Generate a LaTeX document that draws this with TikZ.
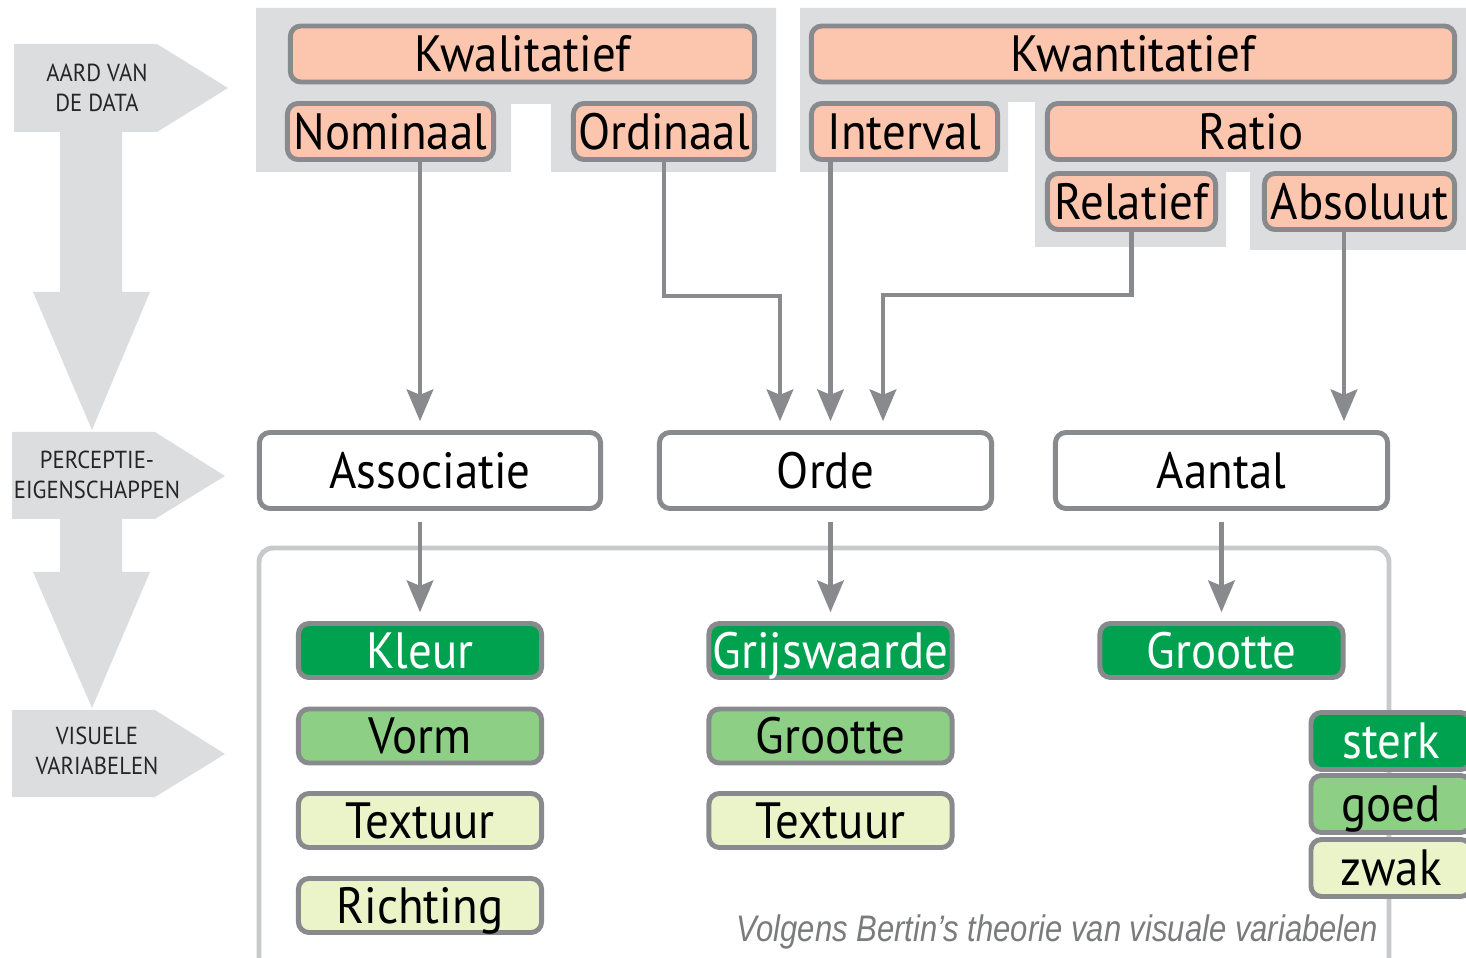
\documentclass[tikz,border=0pt]{standalone}
\usepackage{fontspec}
\setmainfont[FakeStretch=0.92]{PT Sans}
\newfontfamily\captionfont[FakeStretch=0.84]{Liberation Sans}
\usetikzlibrary{arrows.meta,positioning,calc}
\definecolor{linegray}{RGB}{137,138,141}
\definecolor{bandgray}{RGB}{220,221,222}
\definecolor{framegray}{RGB}{200,201,203}
\definecolor{salmon}{RGB}{252,197,174}
\definecolor{darkgreen}{RGB}{0,161,79}
\definecolor{midgreen}{RGB}{141,208,133}
\definecolor{palegreen}{RGB}{235,243,201}
\definecolor{captiongray}{RGB}{122,123,125}
\newcommand\boxfont{\fontsize{14.5}{16}\selectfont}

\begin{document}
\begin{tikzpicture}[x=0.01cm, y=-0.01cm,
    sidelabel/.style={align=center, font=\fontsize{7}{8.5}\selectfont, text=black!85, inner sep=0pt},
    databox/.style={draw=linegray, line width=1.4pt, fill=salmon, rounded corners=3pt,
                minimum height=0.56cm, inner sep=0pt, text height=12pt, text depth=1.8pt, font=\boxfont},
    propbox/.style={databox, fill=white, minimum width=3.32cm, minimum height=0.76cm},
    varbox/.style={databox, minimum width=2.43cm, minimum height=0.54cm},
    varstrong/.style={varbox, fill=darkgreen, text=white},
    vargood/.style={varbox, fill=midgreen},
    varweak/.style={varbox, fill=palegreen},
    arr/.style={-{Stealth[length=9pt, width=7.5pt, inset=1.5pt]}, line width=1.4pt, linegray, shorten >=2.5pt}
]
    \clip (0,0) rectangle (1466,958);

    % side arrows
    \fill[bandgray] (14,44) -- (157,44) -- (228,88) -- (157,132) -- (14,132) -- cycle;
    \fill[bandgray] (60,132) -- (122,132) -- (122,292) -- (150,292) -- (92,430) -- (33,292) -- (60,292) -- cycle;
    \fill[bandgray] (12,432) -- (155,432) -- (225,476) -- (155,519) -- (12,519) -- cycle;
    \fill[bandgray] (60,519) -- (122,519) -- (122,572) -- (150,572) -- (92,708) -- (33,572) -- (60,572) -- cycle;
    \fill[bandgray] (12,710) -- (155,710) -- (225,754) -- (155,797) -- (12,797) -- cycle;
    \node[sidelabel] (lbldata) at (97,88) {AARD VAN\\DE DATA};
    \node[sidelabel] (lblperc) at (97,475) {PERCEPTIE-\\EIGENSCHAPPEN};
    \node[sidelabel] (lblvis) at (97,751) {VISUELE\\VARIABELEN};

    % grey groups behind the data types
    \fill[bandgray] (256,8) -- (776,8) -- (776,172) -- (551,172) -- (551,104) -- (511,104) -- (511,172) -- (256,172) -- cycle;
    \fill[bandgray] (800,8) -- (1466,8) -- (1466,250) -- (1250,250) -- (1250,172) -- (1226,172) -- (1226,247)
        -- (1035,247) -- (1035,102) -- (1008,102) -- (1008,172) -- (800,172) -- cycle;

    % frame round the visual variables
    \draw[framegray, line width=1.4pt, rounded corners=4pt] (259,990) |- (1389,548) -- (1389,990);

    % data types
    \node[databox, minimum width=4.64cm] (kwal) at (522.5,54) {Kwalitatief};
    \node[databox, minimum width=2.06cm] (nom) at (390.5,131.5) {Nominaal};
    \node[databox, minimum width=1.81cm] (ord) at (664,131.5) {Ordinaal};
    \node[databox, minimum width=6.43cm] (kwan) at (1133,54) {Kwantitatief};
    \node[databox, minimum width=1.86cm] (int) at (904.5,131.5) {Interval};
    \node[databox, minimum width=4.07cm] (ratio) at (1251,131.5) {Ratio};
    \node[databox, minimum width=1.68cm] (rel) at (1131.5,201.5) {Relatief};
    \node[databox, minimum width=1.90cm] (abs) at (1359.5,201.5) {Absoluut};

    % perception properties
    \node[propbox, minimum width=3.41cm] (assoc) at (430,470.5) {Associatie};
    \node[propbox] (orde) at (825.5,470.5) {Orde};
    \node[propbox] (aantal) at (1221.5,470.5) {Aantal};

    % visual variables
    \node[varstrong] (kleur) at (420,650.5) {Kleur};
    \node[vargood] (vorm) at (420,736) {Vorm};
    \node[varweak] (textuur1) at (420,820.5) {Textuur};
    \node[varweak] (richting) at (420,905.5) {Richting};
    \node[varstrong] (grijs) at (830.5,650.5) {Grijswaarde};
    \node[vargood] (grootte2) at (830.5,736) {Grootte};
    \node[varweak] (textuur2) at (830.5,820.5) {Textuur};
    \node[varstrong] (grootte3) at (1221.5,650.5) {Grootte};

    % legend
    \node[varstrong, minimum width=1.60cm, minimum height=0.57cm] (sterk) at (1391,741) {sterk};
    \node[vargood, minimum width=1.60cm, minimum height=0.57cm] (goed) at (1391,804) {goed};
    \node[varweak, minimum width=1.60cm, minimum height=0.57cm] (zwak) at (1391,868) {zwak};

    \node[anchor=east, inner sep=0pt, text=captiongray, font=\captionfont\itshape\fontsize{10.5}{12}\selectfont]
        (caption) at (1379,932) {Volgens Bertin’s theorie van visuale variabelen};

    % connectors
    \coordinate (ordbend) at (780,296);
    \coordinate (relbend) at (883,295);
    \draw[arr] (kleur |- nom.south) -- (kleur |- assoc.north);
    \draw[arr] (ord.south) |- (ordbend) -- (ordbend |- orde.north);
    \draw[arr] (grijs |- int.south) -- (grijs |- orde.north);
    \draw[arr] (rel.south) |- (relbend) -- (relbend |- orde.north);
    \draw[arr] ([xshift=-0.155cm]abs.south) -- ([xshift=-0.155cm]abs.south |- aantal.north);
    \draw[arr, shorten <=3pt] (assoc.south -| kleur) -- (kleur.north);
    \draw[arr, shorten <=3pt] (orde.south -| grijs) -- (grijs.north);
    \draw[arr, shorten <=3pt] (aantal.south -| grootte3) -- (grootte3.north);
\end{tikzpicture}
\end{document}
